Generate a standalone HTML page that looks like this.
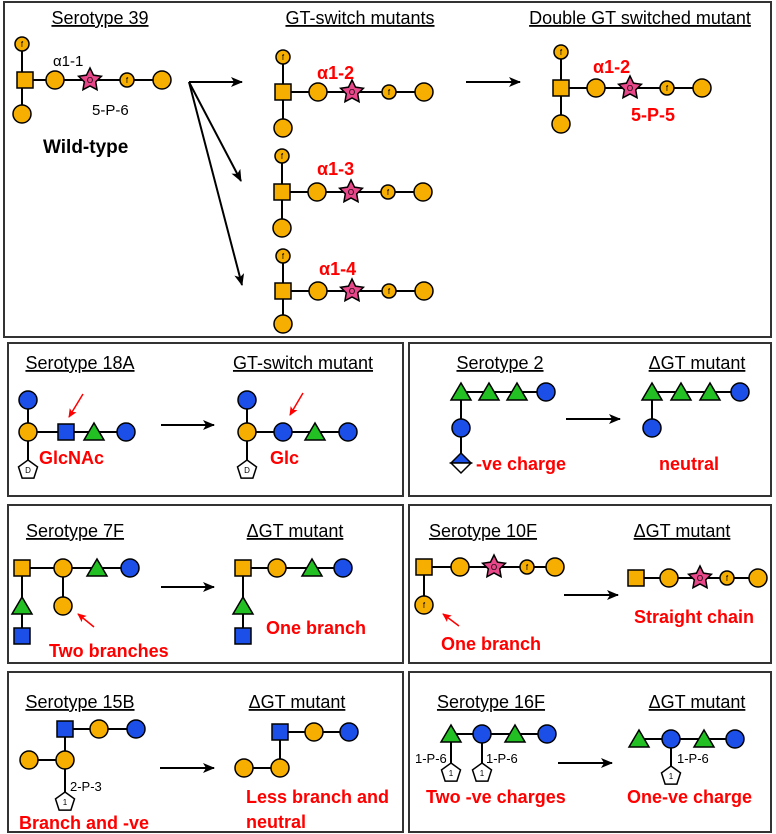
<!DOCTYPE html>
<html><head><meta charset="utf-8"><style>
html,body{margin:0;padding:0;background:#fff}
svg{display:block}
.t{font-family:"Liberation Sans",sans-serif;font-size:18px;text-decoration:underline;text-anchor:middle;fill:#000}
.r{font-family:"Liberation Sans",sans-serif;font-weight:bold;font-size:18px;fill:#f00}
.k{font-family:"Liberation Sans",sans-serif;font-size:15px;fill:#000}
.s{font-family:"Liberation Sans",sans-serif;font-size:13px;fill:#000}
.f{font-family:"Liberation Sans",sans-serif;font-size:8px;text-anchor:middle;fill:#000}
.l{stroke:#000;stroke-width:2;fill:none}
</style></head><body>
<svg width="776" height="834" viewBox="0 0 776 834" xmlns="http://www.w3.org/2000/svg">
<defs>
<circle id="O" r="9" fill="#F6AE00" stroke="#000" stroke-width="1.5"/>
<circle id="F" r="7" fill="#F6AE00" stroke="#000" stroke-width="1.5"/>
<circle id="B" r="9" fill="#1C4FE8" stroke="#000" stroke-width="1.5"/>
<rect id="S" x="-8" y="-8" width="16" height="16" fill="#F6AE00" stroke="#000" stroke-width="1.5"/>
<rect id="BS" x="-8" y="-8" width="16" height="16" fill="#1C4FE8" stroke="#000" stroke-width="1.5"/>
<polygon id="T" points="0,-9 10,8 -10,8" fill="#22C022" stroke="#000" stroke-width="1.5"/>
<polygon id="ST" points="0,-12 3.53,-4.85 11.41,-3.71 5.71,1.85 7.05,9.71 0,6 -7.05,9.71 -5.71,1.85 -11.41,-3.71 -3.53,-4.85" fill="#E8488A" stroke="#000" stroke-width="1.5"/>
<polygon id="P" points="0,-10 9.51,-3.09 5.88,8.09 -5.88,8.09 -9.51,-3.09" fill="#fff" stroke="#000" stroke-width="1.5"/>
<marker id="a" markerWidth="12" markerHeight="10" refX="11" refY="5" orient="auto" markerUnits="userSpaceOnUse"><path d="M0,0 L12,5 L0,10 L3,5z" fill="#000"/></marker>
<marker id="ra" markerWidth="9" markerHeight="8" refX="8" refY="4" orient="auto" markerUnits="userSpaceOnUse"><path d="M0,0 L9,4 L0,8 L2,4z" fill="#f00"/></marker>
</defs>
<g fill="none" stroke="#333" stroke-width="2">
<rect x="4" y="2" width="767" height="335"/>
<rect x="8" y="343" width="395" height="153"/>
<rect x="409" y="343" width="362" height="153"/>
<rect x="8" y="505" width="395" height="158"/>
<rect x="409" y="505" width="362" height="158"/>
<rect x="8" y="672" width="395" height="160"/>
<rect x="409" y="672" width="362" height="160"/>
</g>

<!-- TOP -->
<text class="t" x="100" y="24">Serotype 39</text>
<path class="l" d="M22,44V114M22,80H162"/>
<use href="#F" x="22" y="44"/><text class="f" x="22" y="47">f</text>
<use href="#S" x="25" y="80"/><use href="#O" x="22" y="114"/>
<use href="#O" x="55" y="80"/><use href="#ST" x="90" y="80"/><text class="f" x="90" y="83">O</text>
<use href="#F" x="127" y="80"/><text class="f" x="127" y="83">f</text><use href="#O" x="162" y="80"/>
<text class="k" x="53" y="66" font-size="17">α1-1</text>
<text class="k" x="92" y="115" font-size="17">5-P-6</text>
<text x="43" y="153" font-family="Liberation Sans,sans-serif" font-weight="bold" font-size="19">Wild-type</text>
<path class="l" d="M189,82H242" marker-end="url(#a)"/>
<path class="l" d="M189,82L241,181" marker-end="url(#a)" stroke-width="1.5"/>
<path class="l" d="M189,82L242,285" marker-end="url(#a)" stroke-width="1.5"/>

<text class="t" x="360" y="24">GT-switch mutants</text>
<g>
<path class="l" d="M283,57V128M283,92H424"/>
<use href="#F" x="283" y="57"/><text class="f" x="283" y="60">f</text>
<use href="#S" x="283" y="92"/><use href="#O" x="283" y="128"/>
<use href="#O" x="318" y="92"/><use href="#ST" x="352" y="92"/><text class="f" x="352" y="95">O</text>
<use href="#F" x="389" y="92"/><text class="f" x="389" y="95">f</text><use href="#O" x="424" y="92"/>
<text class="r" x="317" y="79">α1-2</text>
</g>
<g>
<path class="l" d="M282,156V228M282,192H423"/>
<use href="#F" x="282" y="156"/><text class="f" x="282" y="159">f</text>
<use href="#S" x="282" y="192"/><use href="#O" x="282" y="228"/>
<use href="#O" x="317" y="192"/><use href="#ST" x="351" y="192"/><text class="f" x="351" y="195">O</text>
<use href="#F" x="388" y="192"/><text class="f" x="388" y="195">f</text><use href="#O" x="423" y="192"/>
<text class="r" x="317" y="175">α1-3</text>
</g>
<g>
<path class="l" d="M283,256V324M283,291H424"/>
<use href="#F" x="283" y="256"/><text class="f" x="283" y="259">f</text>
<use href="#S" x="283" y="291"/><use href="#O" x="283" y="324"/>
<use href="#O" x="318" y="291"/><use href="#ST" x="352" y="291"/><text class="f" x="352" y="294">O</text>
<use href="#F" x="389" y="291"/><text class="f" x="389" y="294">f</text><use href="#O" x="424" y="291"/>
<text class="r" x="319" y="275">α1-4</text>
</g>
<path class="l" d="M466,82H520" marker-end="url(#a)"/>
<text class="t" x="640" y="24">Double GT switched mutant</text>
<path class="l" d="M561,52V124M561,88H702"/>
<use href="#F" x="561" y="52"/><text class="f" x="561" y="55">f</text>
<use href="#S" x="561" y="88"/><use href="#O" x="561" y="124"/>
<use href="#O" x="596" y="88"/><use href="#ST" x="630" y="88"/><text class="f" x="630" y="91">O</text>
<use href="#F" x="667" y="88"/><text class="f" x="667" y="91">f</text><use href="#O" x="702" y="88"/>
<text class="r" x="593" y="73">α1-2</text>
<text class="r" x="631" y="121">5-P-5</text>

<!-- 18A -->
<text class="t" x="80" y="369">Serotype 18A</text>
<path class="l" d="M28,400V470M28,432H126"/>
<use href="#B" x="28" y="400"/><use href="#O" x="28" y="432"/><use href="#BS" x="66" y="432"/>
<use href="#T" x="94" y="432"/><use href="#B" x="126" y="432"/>
<use href="#P" x="28" y="470"/><text class="f" x="28" y="473">D</text>
<text class="r" x="39" y="464">GlcNAc</text>
<path d="M83,394L69,417" stroke="#f00" stroke-width="1.5" marker-end="url(#ra)"/>
<path class="l" d="M161,425H214" marker-end="url(#a)"/>
<text class="t" x="303" y="369">GT-switch mutant</text>
<path class="l" d="M247,400V470M247,432H348"/>
<use href="#B" x="247" y="400"/><use href="#O" x="247" y="432"/><use href="#B" x="283" y="432"/>
<use href="#T" x="315" y="432"/><use href="#B" x="348" y="432"/>
<use href="#P" x="247" y="470"/><text class="f" x="247" y="473">D</text>
<text class="r" x="270" y="464">Glc</text>
<path d="M303,393L290,415" stroke="#f00" stroke-width="1.5" marker-end="url(#ra)"/>

<!-- Serotype 2 -->
<text class="t" x="500" y="369">Serotype 2</text>
<path class="l" d="M461,392V463M461,392H546"/>
<use href="#T" x="461" y="392"/><use href="#T" x="489" y="392"/><use href="#T" x="517" y="392"/><use href="#B" x="546" y="392"/>
<use href="#B" x="461" y="428"/>
<polygon points="451,463 461,453 471,463" fill="#1C4FE8" stroke="#000" stroke-width="1.5"/>
<polygon points="451,463 461,473 471,463" fill="#fff" stroke="#000" stroke-width="1.5"/>
<text class="r" x="476" y="470">-ve charge</text>
<path class="l" d="M566,419H620" marker-end="url(#a)"/>
<text class="t" x="697" y="369">ΔGT mutant</text>
<path class="l" d="M652,392V428M652,392H740"/>
<use href="#T" x="652" y="392"/><use href="#T" x="681" y="392"/><use href="#T" x="710" y="392"/><use href="#B" x="740" y="392"/>
<use href="#B" x="652" y="428"/>
<text class="r" x="659" y="470">neutral</text>

<!-- 7F -->
<text class="t" x="75" y="537">Serotype 7F</text>
<path class="l" d="M22,568V635M22,568H130M63,568V605"/>
<use href="#S" x="22" y="568"/><use href="#O" x="63" y="568"/><use href="#T" x="97" y="568"/><use href="#B" x="130" y="568"/>
<use href="#T" x="22" y="606"/><use href="#BS" x="22" y="636"/><use href="#O" x="63" y="606"/>
<path d="M94,627L78,614" stroke="#f00" stroke-width="1.5" marker-end="url(#ra)"/>
<text class="r" x="49" y="657">Two branches</text>
<path class="l" d="M161,587H214" marker-end="url(#a)"/>
<text class="t" x="295" y="537">ΔGT mutant</text>
<path class="l" d="M243,568V635M243,568H343"/>
<use href="#S" x="243" y="568"/><use href="#O" x="277" y="568"/><use href="#T" x="312" y="568"/><use href="#B" x="343" y="568"/>
<use href="#T" x="243" y="606"/><use href="#BS" x="243" y="636"/>
<text class="r" x="266" y="634">One branch</text>

<!-- 10F -->
<text class="t" x="483" y="537">Serotype 10F</text>
<path class="l" d="M424,567V605M424,567H555"/>
<use href="#S" x="424" y="567"/><use href="#O" x="460" y="567"/><use href="#ST" x="494" y="567"/><text class="f" x="494" y="570">O</text>
<use href="#F" x="527" y="567"/><text class="f" x="527" y="570">f</text><use href="#O" x="555" y="567"/>
<use href="#O" x="424" y="605"/><text class="f" x="424" y="608">f</text>
<path d="M459,626L443,614" stroke="#f00" stroke-width="1.5" marker-end="url(#ra)"/>
<text class="r" x="441" y="650">One branch</text>
<path class="l" d="M564,595H618" marker-end="url(#a)"/>
<text class="t" x="682" y="537">ΔGT mutant</text>
<path class="l" d="M636,578H758"/>
<use href="#S" x="636" y="578"/><use href="#O" x="669" y="578"/><use href="#ST" x="700" y="578"/><text class="f" x="700" y="581">O</text>
<use href="#F" x="727" y="578"/><text class="f" x="727" y="581">f</text><use href="#O" x="758" y="578"/>
<text class="r" x="634" y="623">Straight chain</text>

<!-- 15B -->
<text class="t" x="80" y="708">Serotype 15B</text>
<path class="l" d="M65,729V800M65,729H136M29,760H65"/>
<use href="#BS" x="65" y="729"/><use href="#O" x="99" y="729"/><use href="#B" x="136" y="729"/>
<use href="#O" x="65" y="760"/><use href="#O" x="29" y="760"/>
<use href="#P" x="65" y="802"/><text class="f" x="65" y="805">1</text>
<text class="s" x="70" y="791">2-P-3</text>
<text class="r" x="19" y="829">Branch and -ve</text>
<path class="l" d="M160,768H214" marker-end="url(#a)"/>
<text class="t" x="297" y="708">ΔGT mutant</text>
<path class="l" d="M280,732V768M280,732H349M244,768H280"/>
<use href="#BS" x="280" y="732"/><use href="#O" x="314" y="732"/><use href="#B" x="349" y="732"/>
<use href="#O" x="280" y="768"/><use href="#O" x="244" y="768"/>
<text class="r" x="246" y="803">Less branch and</text>
<text class="r" x="246" y="828">neutral</text>

<!-- 16F -->
<text class="t" x="491" y="708">Serotype 16F</text>
<path class="l" d="M451,734H547M451,734V772M482,734V772"/>
<use href="#T" x="451" y="734"/><use href="#B" x="482" y="734"/><use href="#T" x="515" y="734"/><use href="#B" x="547" y="734"/>
<use href="#P" x="451" y="773"/><text class="f" x="451" y="776">1</text>
<use href="#P" x="482" y="773"/><text class="f" x="482" y="776">1</text>
<text class="s" x="415" y="763">1-P-6</text>
<text class="s" x="486" y="763">1-P-6</text>
<text class="r" x="426" y="803">Two -ve charges</text>
<path class="l" d="M558,763H612" marker-end="url(#a)"/>
<text class="t" x="697" y="708">ΔGT mutant</text>
<path class="l" d="M639,739H735M671,739V775"/>
<use href="#T" x="639" y="739"/><use href="#B" x="671" y="739"/><use href="#T" x="704" y="739"/><use href="#B" x="735" y="739"/>
<use href="#P" x="671" y="776"/><text class="f" x="671" y="779">1</text>
<text class="s" x="677" y="763">1-P-6</text>
<text class="r" x="627" y="803">One-ve charge</text>
</svg>
</body></html>
